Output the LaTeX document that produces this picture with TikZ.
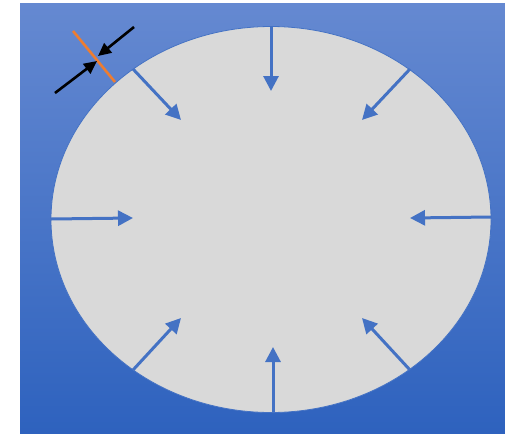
\documentclass[tikz,border=0pt]{standalone}
\usetikzlibrary{arrows.meta}
\definecolor{bgtop}{HTML}{6589D1}
\definecolor{bgbot}{HTML}{2E62BE}
\definecolor{arrblue}{HTML}{4472C4}
\definecolor{ellgray}{HTML}{D9D9D9}
\definecolor{orng}{HTML}{ED7D31}
\tikzset{
  press/.style={draw=arrblue, line width=3pt, -{Triangle[length=15pt,width=15pt]}},
  blk/.style={draw=black, line width=2.6pt, -{Triangle[length=13pt,width=12pt]}},
}
\begin{document}
\begin{tikzpicture}[x=1pt,y=-1pt]
\useasboundingbox (0,0) rectangle (505,434);
\shade[top color=bgtop, bottom color=bgbot] (20,3) rectangle (505,433);
\draw[arrblue, line width=0.8pt, fill=ellgray] (271,219.5) ellipse [x radius=220, y radius=193];
% pressure arrows
\coordinate (t0) at (271,27);  \coordinate (t1) at (271,91);
\coordinate (l0) at (51,219);  \coordinate (l1) at (133,218);
\coordinate (r0) at (491,217); \coordinate (r1) at (410,218);
\coordinate (b0) at (273,412); \coordinate (b1) at (273,347);
\coordinate (tl0) at (133,69); \coordinate (tl1) at (181,120);
\coordinate (tr0) at (410,69); \coordinate (tr1) at (362,120);
\coordinate (bl0) at (133,370); \coordinate (bl1) at (181,318);
\coordinate (br0) at (410,370); \coordinate (br1) at (362,318);
\foreach \a in {t,l,r,b,tl,tr,bl,br}{\draw[press] (\a0) -- (\a1);}
% thickness marker
\coordinate (o0) at (73,31); \coordinate (o1) at (115,82);
\draw[orng, line width=2.6pt] (o0) -- (o1);
\coordinate (k0) at (55,93); \coordinate (k1) at (97,61);
\coordinate (m0) at (134,27); \coordinate (m1) at (98,56);
\draw[blk] (k0) -- (k1);
\draw[blk] (m0) -- (m1);
\end{tikzpicture}
\end{document}
